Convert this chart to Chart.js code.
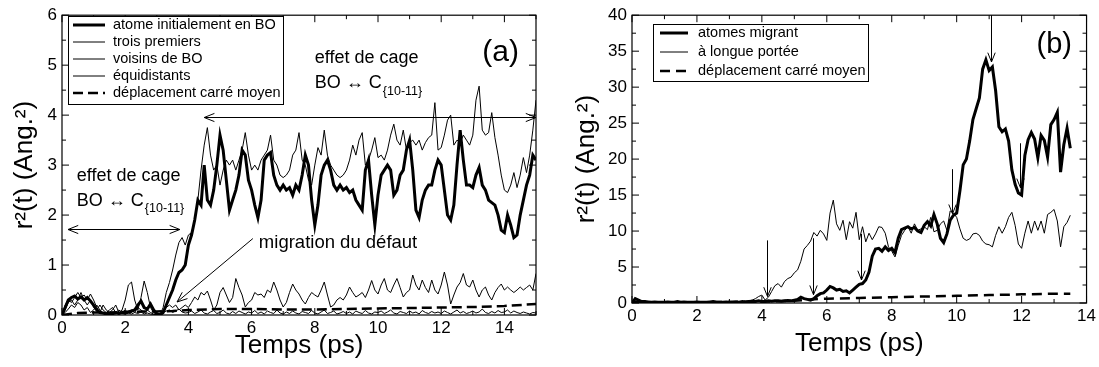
<!DOCTYPE html>
<html><head><meta charset="utf-8">
<script src="https://cdn.jsdelivr.net/npm/chart.js@4/dist/chart.umd.min.js"></script>
<style>
html,body{margin:0;padding:0;background:#fff;width:1099px;height:367px;overflow:hidden}
#wa{position:absolute;left:0;top:0;width:550px;height:367px}
#wb{position:absolute;left:550px;top:0;width:549px;height:367px}
</style></head><body>
<div id="wa"><canvas id="ca"></canvas></div>
<div id="wb"><canvas id="cb"></canvas></div>
<script>
// ---------- Panel (a) data ----------
const tA = Array.from({length:151},(_,i)=>i/10);   // time grid 0..15 ps, step 0.1
const boA = [0,0.15,0.3,0.35,0.38,0.32,0.36,0.3,0.35,0.28,
0.2,0.1,0.05,0.04,0.02,0.03,0.02,0.05,0.03,0.05,
0.04,0.06,0.08,0.1,0.2,0.28,0.15,0.12,0.22,0.1,
0.02,0,0.05,0.2,0.35,0.5,0.7,0.85,0.9,1.0,
1.4,1.6,1.9,2.3,2.2,3.0,2.3,2.2,2.5,3.0,
3.6,3.3,2.7,2.1,2.3,2.5,2.8,3.3,3.2,2.7,
2.5,2.2,1.95,2.3,3.1,3.2,3.25,2.8,2.6,2.5,
2.6,2.5,2.55,2.4,2.6,2.5,2.8,3.2,3.0,2.3,
1.8,2.2,2.8,3.0,3.1,2.9,2.6,2.5,2.6,2.5,
2.55,2.45,2.5,2.3,2.2,2.1,2.9,3.1,2.4,1.8,
2.4,2.8,2.9,3.0,2.9,2.4,2.5,2.8,2.9,3.3,
3.5,2.9,2.1,1.95,2.3,2.5,2.6,2.6,2.9,3.1,
3.0,2.5,2.0,1.9,2.2,3.0,3.7,3.1,2.6,2.6,
2.55,2.8,2.95,2.6,2.5,2.3,2.25,2.2,2.0,1.7,
1.65,2.0,1.8,1.55,1.6,2.0,2.3,2.6,2.8,3.2,
3.1];
const voisin1A = [0,0.2,0.3,0.25,0.35,0.45,0.35,0.4,0.3,0.42,
0.3,0.15,0.05,0.2,0.1,0.05,0.1,0.2,0.05,0.1,
0.3,0.6,0.66,0.3,0.1,0.35,0.68,0.45,0.15,0.05,
0.02,0,0.15,0.45,0.65,0.9,1.2,1.45,1.55,1.4,
1.6,1.65,1.9,2.3,2.9,3.4,3.75,3.2,2.9,3.0,
2.6,2.9,3.1,3.0,3.1,2.9,3.1,3.3,3.65,3.2,
2.9,3.0,2.9,3.1,3.2,3.3,3.6,3.1,3.0,2.8,
2.75,2.8,2.9,3.2,3.3,3.65,3.1,3.0,2.7,2.6,
3.0,3.35,3.2,3.7,3.2,3.0,2.9,2.8,2.75,2.8,
2.9,3.1,3.4,3.2,3.5,3.65,3.0,3.1,3.3,3.55,
3.15,3.2,3.1,3.3,3.6,3.82,3.5,3.4,3.7,3.3,
3.45,3.5,3.4,3.5,3.3,3.45,3.55,3.6,4.25,3.3,
3.35,3.6,3.9,4.0,3.4,3.5,3.45,3.6,3.5,3.4,
3.6,4.3,4.58,3.7,3.6,3.65,4.05,3.55,3.2,2.8,
2.5,2.45,2.6,2.85,2.55,2.8,3.15,2.85,3.2,3.7,
4.3];
const voisin2A = [0,0.1,0.25,0.3,0.2,0.3,0.45,0.3,0.2,0.3,
0.15,0.1,0.2,0.1,0.05,0.1,0.15,0.05,0.1,0.05,
0.1,0.05,0.1,0.05,0.15,0.1,0.05,0.1,0.05,0.02,
0,0.02,0.1,0.15,0.2,0.15,0.2,0.1,0.15,0.2,
0.15,0.25,0.36,0.3,0.45,0.4,0.48,0.3,0.1,0.2,
0.45,0.55,0.4,0.25,0.35,0.73,0.55,0.4,0.16,0.25,
0.3,0.45,0.4,0.42,0.35,0.5,0.45,0.66,0.5,0.3,
0.16,0.25,0.45,0.62,0.5,0.42,0.3,0.22,0.35,0.45,
0.4,0.36,0.5,0.66,0.4,0.16,0.2,0.3,0.35,0.3,
0.4,0.56,0.45,0.36,0.4,0.45,0.35,0.5,0.69,0.5,
0.42,0.6,0.73,0.5,0.45,0.6,0.73,0.55,0.36,0.45,
0.5,0.8,0.6,0.5,0.7,0.55,0.45,0.7,0.5,0.42,
0.6,0.86,0.6,0.22,0.4,0.56,0.65,0.83,0.6,0.56,
0.7,0.5,0.36,0.5,0.56,0.4,0.3,0.45,0.55,0.62,
0.5,0.56,0.5,0.45,0.5,0.56,0.5,0.55,0.6,0.5,
0.83];
const voisin3A = [0,0.05,0.12,0.2,0.15,0.25,0.2,0.1,0.15,0.05,
0.1,0.2,0.1,0.03,0.05,0.02,0.04,0.02,0.05,0.03,
0.02,0.04,0.02,0.05,0.03,0.06,0.02,0.04,0.02,0.01,
0,0.02,0.05,0.08,0.1,0.05,0.08,0.12,0.06,0.04,
0.05,0.08,0.03,0.06,0.1,0.04,0.02,0.06,0.09,0.03,
0.05,0.1,0.04,0.02,0.07,0.03,0.08,0.05,0.02,0.06,
0.04,0.09,0.03,0.06,0.02,0.08,0.05,0.03,0.1,0.04,
0.02,0.06,0.03,0.08,0.04,0.02,0.07,0.05,0.03,0.09,
0.04,0.02,0.06,0.1,0.03,0.05,0.08,0.02,0.04,0.07,
0.03,0.06,0.02,0.08,0.05,0.03,0.09,0.04,0.02,0.06,
0.05,0.08,0.03,0.06,0.1,0.04,0.02,0.07,0.05,0.03,
0.08,0.04,0.06,0.02,0.09,0.05,0.03,0.07,0.04,0.06,
0.03,0.08,0.05,0.02,0.06,0.1,0.04,0.07,0.03,0.05,
0.08,0.04,0.06,0.12,0.05,0.03,0.07,0.04,0.09,0.05,
0.06,0.1,0.04,0.08,0.05,0.03,0.06,0.04,0.02,0.05,
0.04];
const tMsdA = [0,0.5,1,1.5,2,2.5,3,3.5,4,5,6,7,8,9,10,11,12,13,14,15];
const msdA  = [0,0.04,0.05,0.05,0.06,0.07,0.07,0.08,0.1,0.12,0.12,0.11,0.11,0.12,0.13,0.14,0.15,0.16,0.18,0.22];
const labelsA = ['atome initialement en BO','trois premiers','voisins de BO','équidistants','déplacement carré moyen'];
const xTicksA = [0,2,4,6,8,10,12,14];
const yTicksA = [0,1,2,3,4,5,6];

// ---------- Panel (b) data ----------
const tB = Array.from({length:136},(_,i)=>i/10);   // time grid 0..13.5 ps, step 0.1
const migrantB = [0,0.6,0.4,0.2,0.2,0.15,0.1,0.15,0.1,0.12,
0.1,0.15,0.1,0.12,0.2,0.1,0.15,0.1,0.12,0.1,
0.15,0.1,0.12,0.1,0.15,0.2,0.1,0.12,0.1,0.15,
0.1,0.12,0.15,0.1,0.2,0.15,0.2,0.25,0.2,0.3,
0.2,0.2,0.3,0.25,0.3,0.3,0.25,0.3,0.35,0.3,
0.4,0.5,0.8,0.6,0.5,0.4,0.6,1.0,1.3,1.4,
1.8,2.3,2.1,1.8,1.9,1.6,1.7,1.4,1.8,2.2,
2.6,2.7,3.2,4.3,6.5,7.5,7.6,7.2,7.8,7.3,
7.6,7.0,9.0,10.2,10.4,10.6,10.3,10.5,10.0,9.8,
10.8,11.3,10.7,12.3,11.0,9.0,8.4,9.6,11.5,12.2,
12.5,15.6,19.2,20.0,22.5,25.5,27.0,28.5,32.5,33.8,
32.3,32.8,29.5,24.5,23.8,24.2,22.5,18.5,16.5,15.3,
15.0,20.5,22.7,23.7,22.8,20.2,23.3,22.6,20.3,24.8,
25.5,26.5,18.2,22.0,24.3,21.5];
const longueB = [0,0.3,0.2,0.1,0.15,0.1,0.05,0.1,0.05,0.1,
0.05,0.1,0.05,0.08,0.1,0.05,0.1,0.05,0.08,0.1,
0.05,0.1,0.08,0.05,0.1,0.15,0.05,0.1,0.05,0.08,
0.1,0.05,0.1,0.15,0.1,0.2,0.3,0.4,0.6,0.9,
1.1,0.4,0.8,1.6,2.4,2.7,2.2,3.0,3.4,3.6,
4.2,4.6,5.8,7.5,8.0,8.6,9.8,9.3,10.1,9.6,
8.7,12.5,14.3,11.0,10.1,11.5,8.8,11.3,10.4,12.6,
8.8,10.6,8.5,9.7,8.8,9.6,10.6,10.5,9.7,7.8,
7.2,6.4,8.0,9.4,10.1,10.6,9.7,11.0,10.1,10.3,
10.6,10.2,11.9,9.9,10.1,11.0,11.4,10.1,12.8,12.5,
11.9,10.3,9.0,8.7,8.9,9.6,9.7,9.4,8.6,8.2,
8.1,7.8,9.4,10.6,9.7,10.6,11.9,12.6,10.8,8.2,
7.6,9.7,11.4,9.7,11.4,10.1,11.4,9.7,12.3,12.6,
13.0,11.4,7.8,10.6,11.2,12.2];
const tMsdB = [0,1,2,3,4,5,5.5,6,7,8,9,10,11,12,13,13.5];
const msdB  = [0.1,0.1,0.1,0.15,0.2,0.3,0.5,0.6,0.7,0.8,0.9,1.0,1.1,1.2,1.3,1.3];
const labelsB = ['atomes migrant','à longue portée','déplacement carré moyen'];
const xTicksB = [0,2,4,6,8,10,12,14];
const yTicksB = [0,5,10,15,20,25,30,35,40];

// ---------- annotations (data units) ----------
const arrowsB = [
  {x:4.15, y0:8.7, y1:0.9},
  {x:5.57, y0:9.0, y1:1.15},
  {x:7.05, y0:9.6, y1:3.2},
  {x:9.85, y0:18.6, y1:12.4},
  {x:11.05, y0:40, y1:33.5},
  {x:11.94, y0:22.2, y1:16.0}
];

const F = '"Liberation Sans", Arial, Helvetica, sans-serif';
const pts = (t,v)=>t.map((x,i)=>({x:x,y:v[i]}));

function head(ctx, xt, yt, ang, len, spread){
  ctx.beginPath();
  ctx.moveTo(xt - len*Math.cos(ang-spread), yt - len*Math.sin(ang-spread));
  ctx.lineTo(xt, yt);
  ctx.lineTo(xt - len*Math.cos(ang+spread), yt - len*Math.sin(ang+spread));
  ctx.stroke();
}
function subText(ctx, main, sub, x, y, size, subSize){
  ctx.font = size+'px '+F;
  ctx.textBaseline='middle'; ctx.textAlign='left';
  ctx.fillText(main, x, y);
  const w = ctx.measureText(main).width;
  ctx.font = subSize+'px '+F;
  ctx.fillText(sub, x+w+1, y+8);
}

const deco = {
  id:'deco',
  afterDatasetsDraw(chart, args, o){
    const {ctx, chartArea:a, scales:{x,y}} = chart;
    ctx.save();
    ctx.strokeStyle='#000'; ctx.fillStyle='#000'; ctx.lineWidth=1.2;
    ctx.strokeRect(a.left, a.top, a.right-a.left, a.bottom-a.top);
    ctx.lineWidth=1;
    const tk=(v,len,isX)=>{
      ctx.beginPath();
      if(isX){const p=x.getPixelForValue(v); ctx.moveTo(p,a.bottom); ctx.lineTo(p,a.bottom-len); ctx.moveTo(p,a.top); ctx.lineTo(p,a.top+len);}
      else {const p=y.getPixelForValue(v); ctx.moveTo(a.left,p); ctx.lineTo(a.left+len,p); ctx.moveTo(a.right,p); ctx.lineTo(a.right-len,p);}
      ctx.stroke();
    };
    for(let v=x.min; v<=x.max+1e-9; v+=o.minX) tk(v, o.majX.some(m=>Math.abs(m-v)<1e-9)?7:4, true);
    for(let v=y.min; v<=y.max+1e-9; v+=o.minY) tk(v, o.majY.some(m=>Math.abs(m-v)<1e-9)?7:4, false);
    const L=o.legend;
    ctx.fillStyle='#fff';
    ctx.fillRect(L.x0, L.y0, L.x1-L.x0, L.y1-L.y0);
    ctx.lineWidth=1; ctx.strokeStyle='#000';
    ctx.strokeRect(L.x0+0.5, L.y0+0.5, L.x1-L.x0, L.y1-L.y0);
    ctx.fillStyle='#000';
    ctx.font = '14.5px '+F; ctx.textBaseline='middle'; ctx.textAlign='left';
    L.labels.forEach((lab,i)=>{
      const ds = chart.data.datasets[i];
      const yy = L.rows[i];
      ctx.save();
      ctx.lineWidth = ds.borderWidth; ctx.setLineDash(ds.borderDash||[]);
      ctx.beginPath(); ctx.moveTo(L.s0, yy); ctx.lineTo(L.s1, yy); ctx.stroke();
      ctx.restore();
      ctx.fillText(lab, L.tx, yy);
    });
    o.extra(ctx, x, y, a);
    ctx.restore();
  }
};

function baseScales(xmin,xmax,xt,ymin,ymax,yt,yw,xh,ytp,xtp){
  return {
    x:{type:'linear', min:xmin, max:xmax,
       grid:{display:false, drawTicks:false}, border:{display:false},
       ticks:{font:{family:F,size:17}, color:'#000', padding:3, maxRotation:0, autoSkip:false},
       afterBuildTicks:s=>{s.ticks = xt.map(v=>({value:v}));},
       afterFit:s=>{s.height = xh;},
       title:{display:true, text:'Temps (ps)', color:'#000', font:{family:F,size:26}, padding:{top:0,bottom:xtp}}},
    y:{type:'linear', min:ymin, max:ymax,
       grid:{display:false, drawTicks:false}, border:{display:false},
       ticks:{font:{family:F,size:17}, color:'#000', padding:5, autoSkip:false},
       afterBuildTicks:s=>{s.ticks = yt.map(v=>({value:v}));},
       afterFit:s=>{s.width = yw;},
       title:{display:true, text:'r²(t) (Ang.²)', color:'#000', font:{family:F,size:26}, padding:{top:ytp,bottom:0}}}
  };
}

const common = {
  responsive:true, maintainAspectRatio:false, animation:false, devicePixelRatio:1,
  events:[],
  elements:{point:{radius:0}, line:{tension:0, borderColor:'#000'}}
};

// ---------- Chart (a) ----------
new Chart(document.getElementById('ca'), {
  type:'line',
  data:{datasets:[
    {label:labelsA[0], data:pts(tA,boA), borderColor:'#000', borderWidth:3},
    {label:labelsA[1], data:pts(tA,voisin1A), borderColor:'#000', borderWidth:1},
    {label:labelsA[2], data:pts(tA,voisin2A), borderColor:'#000', borderWidth:1},
    {label:labelsA[3], data:pts(tA,voisin3A), borderColor:'#000', borderWidth:1},
    {label:labelsA[4], data:pts(tMsdA,msdA), borderColor:'#000', borderWidth:2.5, borderDash:[10,5]}
  ]},
  options:Object.assign({}, common, {
    layout:{padding:{top:14, right:14, left:0, bottom:0}},
    scales: baseScales(0,15,xTicksA,0,6,yTicksA,62,52,9,6),
    plugins:{legend:{display:false}, tooltip:{enabled:false},
      deco:{majX:xTicksA, minX:1, majY:yTicksA, minY:0.5,
        legend:{x0:68,y0:16,x1:283,y1:104, s0:73,s1:105, tx:113, rows:[25,42,59,76,93], labels:labelsA},
        extra:(ctx,x,y,a)=>{
          ctx.fillStyle='#000'; ctx.strokeStyle='#000'; ctx.lineWidth=1;
          ctx.font='30px '+F; ctx.textBaseline='middle'; ctx.textAlign='left';
          ctx.fillText('(a)', x.getPixelForValue(13.3), y.getPixelForValue(5.24));
          ctx.font='18px '+F;
          ctx.fillText('effet de cage', x.getPixelForValue(8.0), y.getPixelForValue(5.14));
          subText(ctx,'BO ↔ C','{10-11}', x.getPixelForValue(8.0), y.getPixelForValue(4.64), 18, 12.5);
          ctx.font='18px '+F;
          ctx.fillText('effet de cage', x.getPixelForValue(0.47), y.getPixelForValue(2.79));
          subText(ctx,'BO ↔ C','{10-11}', x.getPixelForValue(0.47), y.getPixelForValue(2.29), 18, 12.5);
          ctx.font='18.5px '+F;
          ctx.fillText('migration du défaut', x.getPixelForValue(6.23), y.getPixelForValue(1.44));
          const dbl=(x0,x1,yv)=>{
            const p0=x.getPixelForValue(x0), p1=x.getPixelForValue(x1), py=Math.round(y.getPixelForValue(yv))+0.5;
            ctx.beginPath(); ctx.moveTo(p0,py); ctx.lineTo(p1,py); ctx.stroke();
            head(ctx,p0,py,Math.PI,11,0.38); head(ctx,p1,py,0,11,0.38);
          };
          dbl(0.19,3.73,1.73);
          dbl(4.5,15,3.97);
          const ax=x.getPixelForValue(6.04), ay=y.getPixelForValue(1.53), bx=x.getPixelForValue(3.64), by=y.getPixelForValue(0.26);
          ctx.beginPath(); ctx.moveTo(ax,ay); ctx.lineTo(bx,by); ctx.stroke();
          head(ctx,bx,by,Math.atan2(by-ay,bx-ax),11,0.38);
        }}}
  }),
  plugins:[deco]
});

// ---------- Chart (b) ----------
new Chart(document.getElementById('cb'), {
  type:'line',
  data:{datasets:[
    {label:labelsB[0], data:pts(tB,migrantB), borderColor:'#000', borderWidth:3},
    {label:labelsB[1], data:pts(tB,longueB), borderColor:'#000', borderWidth:1},
    {label:labelsB[2], data:pts(tMsdB,msdB), borderColor:'#000', borderWidth:2.5, borderDash:[10,6]}
  ]},
  options:Object.assign({}, common, {
    layout:{padding:{top:13, right:12, left:0, bottom:0}},
    scales: baseScales(0,14,xTicksB,0,40,yTicksB,82,64,21,8),
    plugins:{legend:{display:false}, tooltip:{enabled:false},
      deco:{majX:xTicksB, minX:1, majY:yTicksB, minY:2.5,
        legend:{x0:103,y0:24,x1:318,y1:81, s0:110,s1:138, tx:148, rows:[33,52,71], labels:labelsB},
        extra:(ctx,x,y,a)=>{
          ctx.fillStyle='#000'; ctx.strokeStyle='#000'; ctx.lineWidth=1;
          ctx.font='29px '+F; ctx.textBaseline='middle'; ctx.textAlign='left';
          ctx.fillText('(b)', x.getPixelForValue(12.46), y.getPixelForValue(35.9));
          arrowsB.forEach(ar=>{
            const px=Math.round(x.getPixelForValue(ar.x))+0.5, p0=y.getPixelForValue(ar.y0), p1=y.getPixelForValue(ar.y1);
            ctx.beginPath(); ctx.moveTo(px,p0); ctx.lineTo(px,p1); ctx.stroke();
            head(ctx,px,p1,Math.PI/2,10,0.38);
          });
        }}}
  }),
  plugins:[deco]
});
</script>
</body></html>
